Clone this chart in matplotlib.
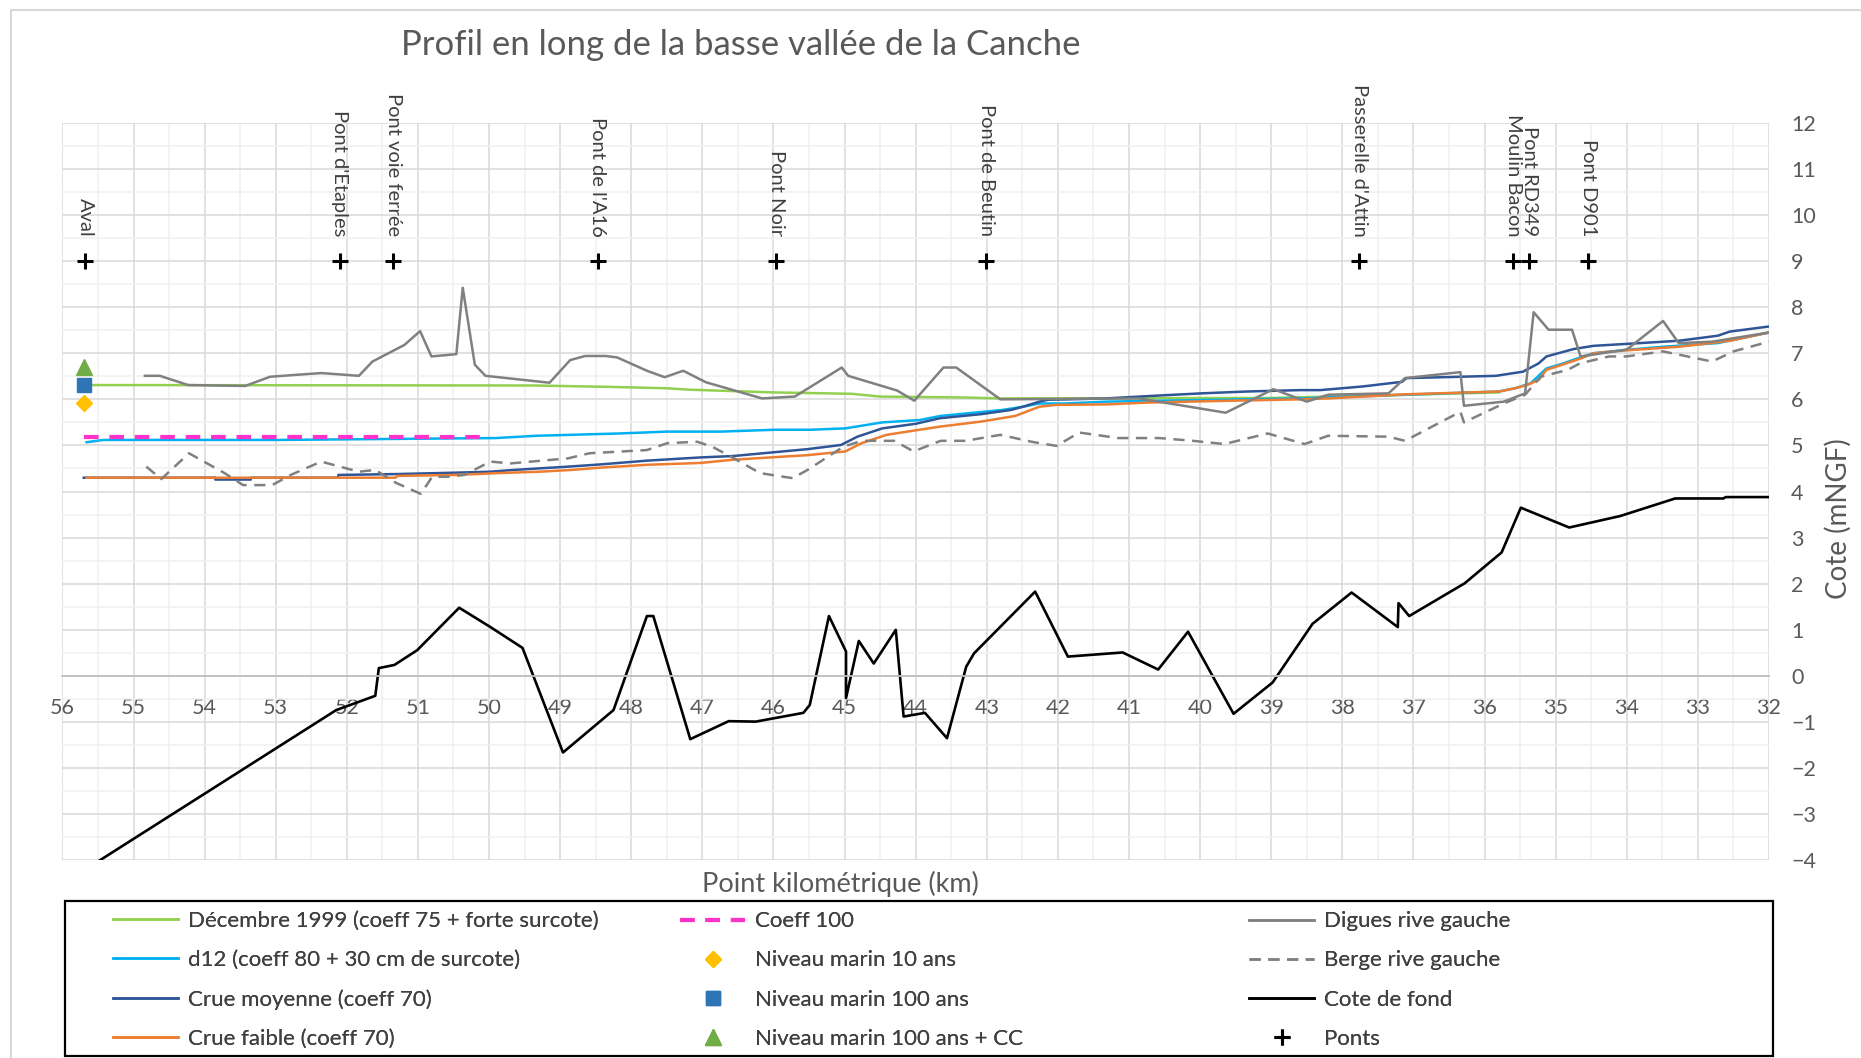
import matplotlib
matplotlib.use('Agg')
import matplotlib.pyplot as plt
from matplotlib.lines import Line2D
from matplotlib.patches import Rectangle
from matplotlib.ticker import MultipleLocator

plt.rcParams['font.family'] = ['Lato', 'DejaVu Sans']

# Données (PK en km, cote en mNGF)
dec1999_km = [55.7, 49.35, 48.3, 47.5, 47.2, 46.0, 44.9, 44.5, 43.3, 42.8, 39.0, 37.1, 35.8]
dec1999_z = [6.31, 6.30, 6.27, 6.24, 6.21, 6.15, 6.12, 6.06, 6.04, 6.02, 6.03, 6.10, 6.15]

d12_km = [55.66, 55.42, 52.94, 49.91, 49.33, 48.16, 47.5, 46.74, 45.99, 45.49, 44.99, 44.47,
          43.95, 43.65, 42.78, 42.49, 42.26, 41.9, 41.32, 38.6, 37.1, 35.8, 35.57, 35.35,
          35.13, 34.91, 34.69, 34.47, 34.03, 33.49, 32.72, 32.0]
d12_z = [5.07, 5.12, 5.12, 5.16, 5.21, 5.26, 5.30, 5.30, 5.34, 5.34, 5.37, 5.50,
         5.55, 5.64, 5.77, 5.84, 5.91, 5.91, 5.95, 6.02, 6.10, 6.17, 6.24, 6.35,
         6.67, 6.77, 6.89, 7.00, 7.07, 7.14, 7.22, 7.45]

moy_km = [55.7, 53.85, 53.85, 53.35, 53.35, 52.12, 52.12, 51.28, 50.46, 49.99, 49.64, 48.89,
          48.42, 47.78, 47.03, 46.57, 45.52, 45.05, 44.82, 44.47, 44.0, 43.66, 43.07, 42.66,
          42.49, 42.26, 42.14, 41.32, 40.74, 39.98, 39.34, 38.59, 38.31, 37.71, 37.16, 37.1,
          36.34, 35.84, 35.46, 35.24, 35.13, 34.75, 34.47, 34.03, 33.27, 32.72, 32.55, 32.0]
moy_z = [4.30, 4.30, 4.26, 4.26, 4.30, 4.30, 4.36, 4.38, 4.41, 4.43, 4.47, 4.54,
         4.59, 4.67, 4.74, 4.77, 4.92, 5.01, 5.19, 5.37, 5.47, 5.59, 5.68, 5.77,
         5.84, 5.95, 5.99, 6.02, 6.07, 6.13, 6.17, 6.20, 6.20, 6.28, 6.38, 6.46,
         6.49, 6.51, 6.60, 6.78, 6.93, 7.09, 7.16, 7.20, 7.27, 7.38, 7.47, 7.58]

faible_km = [55.66, 51.32, 51.28, 50.46, 49.88, 49.29, 48.83, 48.42, 47.78, 47.03, 46.57, 45.52,
             44.99, 44.76, 44.41, 43.95, 43.65, 43.07, 42.6, 42.26, 42.02, 41.32, 40.74, 39.57,
             38.59, 38.2, 37.1, 35.79, 35.57, 35.40, 35.24, 35.13, 34.91, 34.64, 34.47, 34.03,
             33.27, 32.55, 32.0]
faible_z = [4.30, 4.30, 4.34, 4.36, 4.40, 4.43, 4.47, 4.52, 4.58, 4.62, 4.69, 4.79,
            4.87, 5.05, 5.23, 5.34, 5.41, 5.52, 5.64, 5.84, 5.88, 5.89, 5.93, 5.97,
            6.00, 6.02, 6.11, 6.17, 6.24, 6.31, 6.42, 6.64, 6.75, 6.89, 7.00, 7.06,
            7.14, 7.27, 7.45]

coeff100_km = [55.7, 50.1]
coeff100_z = [5.19, 5.19]

marin_km = 55.7
marin10_z = 5.91
marin100_z = 6.31
marin100cc_z = 6.71

digues_km = [54.84, 54.63, 54.23, 53.43, 53.08, 52.36, 51.83, 51.64, 51.19, 50.97, 50.81, 50.46,
             50.37, 50.20, 50.05, 49.15, 48.86, 48.65, 48.36, 48.20, 47.78, 47.53, 47.27, 46.95,
             46.16, 45.70, 45.04, 44.95, 44.26, 44.02, 43.61, 43.43, 42.81, 40.86, 39.64, 38.97,
             38.50, 38.20, 37.35, 37.12, 36.34, 36.29, 35.73, 35.43, 35.31, 35.10, 34.77, 34.65,
             34.00, 33.49, 33.27, 32.80, 32.00]
digues_z = [6.51, 6.51, 6.31, 6.29, 6.49, 6.57, 6.51, 6.82, 7.18, 7.48, 6.93, 6.98,
            8.42, 6.75, 6.51, 6.36, 6.85, 6.94, 6.94, 6.91, 6.62, 6.48, 6.62, 6.37,
            6.02, 6.06, 6.69, 6.51, 6.19, 5.97, 6.69, 6.69, 6.00, 6.02, 5.71, 6.22,
            5.95, 6.10, 6.13, 6.46, 6.59, 5.86, 5.95, 6.13, 7.89, 7.51, 7.51, 6.93,
            7.08, 7.70, 7.22, 7.25, 7.45]

berge_km = [54.82, 54.61, 54.22, 53.72, 53.46, 53.05, 52.79, 52.36, 51.83, 51.60, 51.31, 50.96,
            50.80, 50.58, 50.35, 49.98, 49.70, 48.89, 48.59, 47.78, 47.49, 47.07, 46.86, 46.60,
            46.19, 45.73, 45.52, 45.02, 44.76, 44.30, 44.03, 43.65, 43.30, 42.81, 42.37, 42.02,
            41.70, 41.15, 40.57, 40.10, 39.66, 39.05, 38.53, 38.20, 37.35, 37.12, 36.34, 36.29,
            35.73, 35.43, 35.21, 34.83, 34.66, 34.25, 34.01, 33.49, 32.80, 32.50, 32.00]
berge_z = [4.54, 4.27, 4.83, 4.40, 4.14, 4.14, 4.36, 4.65, 4.43, 4.47, 4.19, 3.95,
           4.32, 4.32, 4.36, 4.65, 4.61, 4.72, 4.83, 4.90, 5.05, 5.08, 4.97, 4.76,
           4.40, 4.29, 4.47, 4.97, 5.10, 5.10, 4.87, 5.10, 5.10, 5.23, 5.08, 4.99,
           5.28, 5.16, 5.16, 5.10, 5.03, 5.26, 5.03, 5.21, 5.19, 5.10, 5.73, 5.50,
           5.91, 6.10, 6.49, 6.64, 6.78, 6.93, 6.93, 7.04, 6.82, 7.04, 7.25]

fond_km = [55.7, 52.15, 51.6, 51.55, 51.33, 51.01, 50.42, 49.99, 49.53, 48.96, 48.25, 47.78,
           47.69, 47.17, 46.63, 46.25, 45.58, 45.49, 45.22, 44.98, 44.98, 44.80, 44.59, 44.28,
           44.17, 43.87, 43.56, 43.29, 43.18, 42.32, 41.86, 41.09, 40.59, 40.17, 39.53, 38.98,
           38.42, 37.87, 37.22, 37.21, 37.06, 36.28, 35.76, 35.49, 34.81, 34.09, 33.32, 32.64,
           32.61, 32.0]
fond_z = [-4.22, -0.74, -0.43, 0.17, 0.24, 0.56, 1.48, 1.07, 0.61, -1.66, -0.74, 1.30,
          1.30, -1.37, -0.98, -0.99, -0.80, -0.63, 1.30, 0.53, -0.48, 0.76, 0.27, 1.00,
          -0.88, -0.80, -1.35, 0.20, 0.49, 1.83, 0.42, 0.51, 0.14, 0.96, -0.82, -0.14,
          1.13, 1.81, 1.06, 1.58, 1.30, 2.01, 2.68, 3.65, 3.22, 3.47, 3.85, 3.85,
          3.88, 3.88]

ponts_km = [55.68, 52.10, 51.35, 48.47, 45.96, 43.01, 37.76, 35.60, 35.37, 34.54]
ponts_z = [9, 9, 9, 9, 9, 9, 9, 9, 9, 9]
ponts_noms = ["Aval", "Pont d'Etaples", "Pont voie ferrée", "Pont de l'A16", "Pont Noir",
              "Pont de Beutin", "Passerelle d'Attin", "Moulin Bacon", "Pont RD349", "Pont D901"]

W, H = 1861, 1058
fig = plt.figure(figsize=(W / 100, H / 100), dpi=100)
ax = fig.add_axes([62.4 / W, 1 - 860.4 / H, (1769 - 62.4) / W, (860.4 - 122.7) / H])

# Séries
l_dec, = ax.plot(dec1999_km, dec1999_z, color='#92d050', lw=1.8)
l_d12, = ax.plot(d12_km, d12_z, color='#00b0f0', lw=1.8)
l_moy, = ax.plot(moy_km, moy_z, color='#2f5597', lw=1.8)
l_fai, = ax.plot(faible_km, faible_z, color='#ed7d31', lw=1.8)
l_c100, = ax.plot(coeff100_km, coeff100_z, color='#ff33cc', lw=3, dashes=(3.5, 2.6))
m10, = ax.plot([marin_km], [marin10_z], 'D', color='#ffc000', ms=8, ls='none')
m100, = ax.plot([marin_km], [marin100_z], 's', color='#2e75b6', ms=10, ls='none')
m100cc, = ax.plot([marin_km], [marin100cc_z], '^', color='#70ad47', ms=11, ls='none')
l_dig, = ax.plot(digues_km, digues_z, color='#808080', lw=1.8)
l_ber, = ax.plot(berge_km, berge_z, color='#808080', lw=1.8, dashes=(4.5, 3))
l_fond, = ax.plot(fond_km, fond_z, color='black', lw=1.9)
l_ponts, = ax.plot(ponts_km, ponts_z, '+', color='black', ms=11, mew=2.2, ls='none')

for km, nom in zip(ponts_km, ponts_noms):
    ax.text(km, 9.53, nom, rotation=-90, rotation_mode='anchor', ha='right', va='center',
            fontsize=14.5, color='#404040', clip_on=False)

# Axes
ax.set_xlim(56, 32)
ax.set_ylim(-4, 12)
ax.xaxis.set_major_locator(MultipleLocator(1))
ax.xaxis.set_minor_locator(MultipleLocator(0.5))
ax.yaxis.set_major_locator(MultipleLocator(1))
ax.yaxis.set_minor_locator(MultipleLocator(0.5))
ax.grid(which='major', color='#d9d9d9', lw=1.1)
ax.grid(which='minor', color='#f0f0f0', lw=1.1)
ax.set_axisbelow(True)
for s in ['top', 'left', 'right']:
    ax.spines[s].set_visible(False)
ax.spines['bottom'].set_position(('data', 0))
ax.spines['bottom'].set_color('#bfbfbf')
ax.spines['bottom'].set_linewidth(1.3)
ax.yaxis.tick_right()
ax.tick_params(axis='both', which='both', length=0, labelsize=15.5, labelcolor='#595959')
ax.tick_params(axis='x', pad=16)
ax.tick_params(axis='y', pad=16)

# Textes
fig.text(741 / W, 1 - 45 / H, 'Profil en long de la basse vallée de la Canche',
         ha='center', va='center', fontsize=25, color='#595959')
fig.text(840 / W, 1 - 884 / H, 'Point kilométrique (km)', ha='center', va='center',
         fontsize=19.5, color='#595959')
fig.text(1838 / W, 1 - 519 / H, 'Cote (mNGF)', rotation=90, ha='center', va='center',
         fontsize=20, color='#595959')

# Légende (3 colonnes)
leg_kw = dict(loc='center left', frameon=False, fontsize=16, handlelength=2.93,
              handletextpad=0.43, labelspacing=0.86, borderpad=0, borderaxespad=0,
              numpoints=1, labelcolor='#404040')
cols = [
    ([l_dec, l_d12, l_moy, l_fai],
     ['Décembre 1999 (coeff 75 + forte surcote)', 'd12 (coeff 80 + 30 cm de surcote)',
      'Crue moyenne (coeff 70)', 'Crue faible (coeff 70)'], 113),
    ([l_c100, m10, m100, m100cc],
     ['Coeff 100', 'Niveau marin 10 ans', 'Niveau marin 100 ans', 'Niveau marin 100 ans + CC'], 680),
    ([l_dig, l_ber, l_fond, l_ponts],
     ['Digues rive gauche', 'Berge rive gauche', 'Cote de fond', 'Ponts'], 1249),
]
for handles, labels, x0 in cols:
    leg = fig.legend(handles, labels, bbox_to_anchor=(x0 / W, 1 - 980 / H), **leg_kw)
    fig.add_artist(leg)

fig.add_artist(Rectangle((65 / W, 1 - 1056 / H), (1773 - 65) / W, (1056 - 901) / H,
                         transform=fig.transFigure, fill=False, ec='black', lw=1.6))
fig.add_artist(Line2D([11 / W, 1], [1 - 10 / H, 1 - 10 / H], transform=fig.transFigure,
                      color='#d9d9d9', lw=1.5))
fig.add_artist(Line2D([11 / W, 11 / W], [0, 1 - 10 / H], transform=fig.transFigure,
                      color='#d9d9d9', lw=1.5))

fig.savefig('out.png', dpi=100)
